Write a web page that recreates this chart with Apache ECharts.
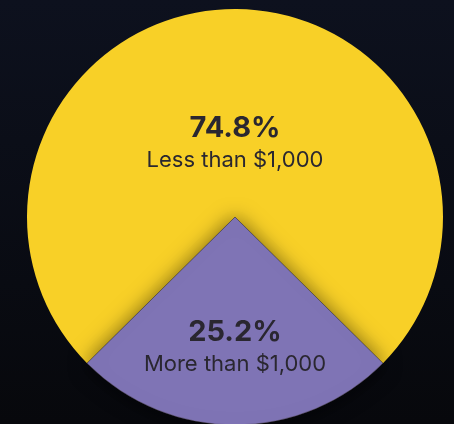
<!DOCTYPE html>
<html>
<head>
<meta charset="utf-8">
<script src="https://cdn.jsdelivr.net/npm/echarts@6/dist/echarts.min.js"></script>
<style>
  html, body { margin: 0; padding: 0; }
  #chart { width: 454px; height: 424px; }
</style>
</head>
<body>
<div id="chart"></div>
<script>
  // shares by order value
  const categories = ['Less than $1,000', 'More than $1,000'];
  const shares = [74.8, 25.2];
  const colors = ['#F8D027', '#7F74B5'];
  // purple slice should point straight down
  const startAngle = 270 - shares[1] / 100 * 180;

  let myChart = echarts.init(document.getElementById('chart'));
  myChart.setOption({
    backgroundColor: {
      type: 'linear', x: 0, y: 0, x2: 0, y2: 1,
      colorStops: [
        { offset: 0, color: '#0d111e' },
        { offset: 1, color: '#07080c' }
      ]
    },
    animation: false,
    series: [
      {
        type: 'pie',
        center: [235, 217],
        radius: 208,
        startAngle: startAngle,
        clockwise: true,
        silent: true,
        label: {
          position: 'inside',
          color: '#2a2730',
          fontFamily: 'Inter',
          formatter: p => '{v|' + p.value.toFixed(1) + '%}\n{n|' + p.name + '}',
          rich: {
            v: { fontSize: 29, fontWeight: 'bold', fontFamily: 'Inter', color: '#2a2730', lineHeight: 32 },
            n: { fontSize: 22, fontFamily: 'Inter', color: '#2a2730', lineHeight: 32 }
          }
        },
        labelLine: { show: false },
        data: [
          {
            name: categories[0], value: shares[0],
            itemStyle: { color: colors[0] },
            label: { offset: [0, 34] }
          },
          {
            name: categories[1], value: shares[1],
            itemStyle: {
              color: colors[1],
              borderColor: 'rgba(60,50,40,0.6)',
              borderWidth: 0.6,
              shadowBlur: 20,
              shadowColor: 'rgba(0,0,0,0.5)'
            },
            label: { offset: [0, 24] }
          }
        ]
      }
    ]
  });
</script>
</body>
</html>
